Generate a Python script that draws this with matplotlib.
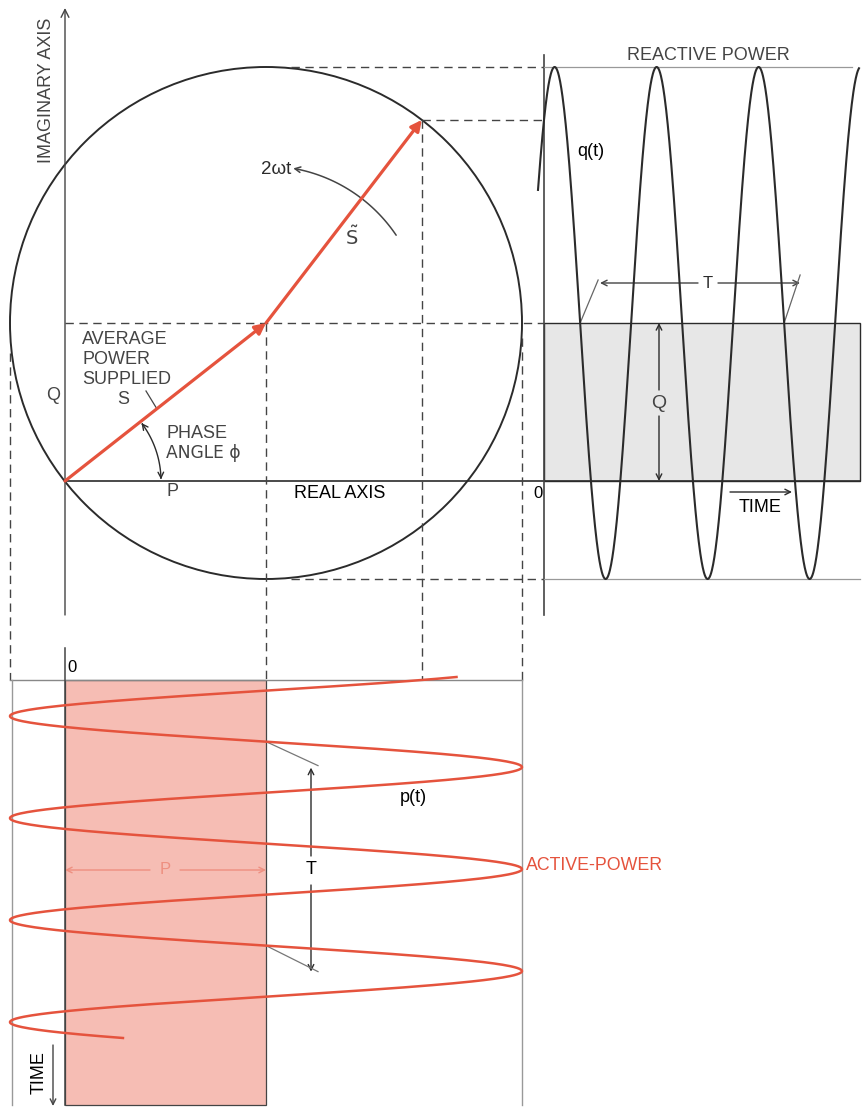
import numpy as np
import matplotlib.pyplot as plt
from matplotlib.patches import Circle, Rectangle, FancyArrowPatch
from matplotlib.path import Path

# ---------------------------------------------------------------
#  values (drawing units, 1 unit = 1 px at dpi 100)
# ---------------------------------------------------------------
P = 201.0            # average (active) power
Q = 158.0            # reactive power
S_MAG = 256.0        # magnitude of the rotating phasor S~
THETA0 = 52.5        # angle of S~ at t = 0, degrees
PERIOD = 102.0       # period T of p(t), q(t)
T_RIGHT = (-6, 315)  # time span drawn for q(t)
T_BOTTOM = (-3, 358) # time span drawn for p(t)

# layout
ORIGIN = (65.0, 481.0)      # phasor origin
Q_T0 = 544.0                # time zero of the q(t) panel (x)
P_T0 = 680.0                # time zero of the p(t) panel (y)
BOTTOM = 1105.0
RIGHT = 860.0

RED = "#e5533d"
PINK = "#f6bdb4"
GREY_BAND = "#e7e7e7"
INK = "#2b2b2b"
SOFT = "#444444"
FONT = ["Liberation Sans", "DejaVu Sans"]

plt.rcParams["font.family"] = FONT

fig = plt.figure(figsize=(8.64, 11.08), dpi=100)
ax = fig.add_axes([0, 0, 1, 1])
ax.set_xlim(0, 864)
ax.set_ylim(1108, 0)
ax.axis("off")

ox, oy = ORIGIN
cx, cy = ox + P, oy - Q
th0 = np.radians(THETA0)
tipx, tipy = cx + S_MAG * np.cos(th0), cy - S_MAG * np.sin(th0)


def dash(x0, y0, x1, y1, **kw):
    ax.plot([x0, x1], [y0, y1], color=SOFT, lw=1.0, dashes=(6, 4), **kw)


def line(x0, y0, x1, y1, color=SOFT, lw=1.0, **kw):
    ax.plot([x0, x1], [y0, y1], color=color, lw=lw, **kw)


def arrow(x0, y0, x1, y1, style="->", color=INK, lw=1.0, ms=10):
    ax.add_patch(FancyArrowPatch((x0, y0), (x1, y1), arrowstyle=style,
                                 mutation_scale=ms, color=color, lw=lw,
                                 shrinkA=0, shrinkB=0))


def arc_arrow(xc, yc, r, a0, a1, style="->", color=INK, lw=1.0):
    a = np.radians(np.linspace(a0, a1, 60))
    verts = np.column_stack([xc + r * np.cos(a), yc - r * np.sin(a)])
    ax.add_patch(FancyArrowPatch(path=Path(verts), arrowstyle=style,
                                 mutation_scale=10, color=color, lw=lw))


def label(x, y, s, size=13, color=SOFT, **kw):
    kw.setdefault("ha", "center")
    kw.setdefault("va", "center")
    ax.text(x, y, s, fontsize=size, color=color, **kw)


# ---------------- shaded bands ----------------
ax.add_patch(Rectangle((Q_T0, cy), RIGHT - Q_T0, Q, facecolor=GREY_BAND,
                       edgecolor=INK, lw=1.0, zorder=0))
ax.add_patch(Rectangle((ox, P_T0), P, BOTTOM - P_T0, facecolor=PINK,
                       edgecolor=SOFT, lw=0.9, zorder=0))

# ---------------- phasor diagram ----------------
ax.add_patch(Circle((cx, cy), S_MAG, fill=False, edgecolor=INK, lw=1.4))
arrow(ox, 615, ox, 8, style="->", color=SOFT, lw=1.0, ms=14)   # imaginary axis
line(ox, oy, RIGHT, oy, color=INK, lw=1.2)                     # real axis
line(Q_T0, 55, Q_T0, 615, color=SOFT, lw=1.2)                  # q(t) axis

# projection lines
dash(ox, cy, Q_T0, cy)
dash(tipx, tipy, Q_T0, tipy)
dash(cx + 25, cy - S_MAG, Q_T0, cy - S_MAG)
dash(cx + 25, cy + S_MAG, Q_T0, cy + S_MAG)
dash(cx, cy, cx, P_T0)
dash(tipx, tipy, tipx, P_T0)
dash(cx - S_MAG, cy + 30, cx - S_MAG, P_T0)
dash(cx + S_MAG, cy + 15, cx + S_MAG, P_T0)
line(Q_T0, cy - S_MAG, RIGHT - 8, cy - S_MAG, color="#999999", lw=0.9)
line(Q_T0, cy + S_MAG, RIGHT, cy + S_MAG, color="#999999", lw=0.9)

# phasors S and S~
ax.add_patch(FancyArrowPatch((ox, oy), (cx, cy), arrowstyle="-|>",
                             mutation_scale=16, color=RED, lw=2.3,
                             shrinkA=0, shrinkB=0, zorder=5))
ax.add_patch(FancyArrowPatch((cx, cy), (tipx, tipy), arrowstyle="-|>",
                             mutation_scale=16, color=RED, lw=2.3,
                             shrinkA=0, shrinkB=0, zorder=5))

# rotation 2wt and phase angle
arc_arrow(cx, cy, 157, 34, 80, style="->", color=SOFT, lw=1.1)
phi = np.degrees(np.arctan2(Q, P))
arc_arrow(ox, oy, 96, 1, phi - 1, style="<->", color=INK, lw=1.0)
line(146, 391, 157, 409, color=SOFT, lw=0.9)

label(47, 90, "IMAGINARY AXIS", rotation=90)
label(291, 169, "2\u03c9t", size=13.5, color=INK, ha="right")
label(352, 237, r"$\tilde{\mathrm{S}}$", size=14, color=SOFT)
for k, s in enumerate(["AVERAGE", "POWER", "SUPPLIED"]):
    label(82, 340 + 20 * k, s, ha="left")
label(123, 399, "S")
label(53, 395, "Q")
label(166, 433, "PHASE", ha="left")
label(166, 453, "ANGLE \u03d5", ha="left", family=["DejaVu Sans"], size=12.3)
label(172, 492, "P")
label(340, 494, "REAL AXIS", color="black")

# ---------------- reactive power q(t) ----------------
t = np.linspace(*T_RIGHT, 800)
q = Q + S_MAG * np.sin(th0 + 2 * np.pi * t / PERIOD)
ax.plot(Q_T0 + t, oy - q, color=INK, lw=1.5, zorder=4)

label(708, 56, "REACTIVE POWER")
label(591, 152, "q(t)", size=13, color="black")
label(538, 493, "0", color="black", size=12)
arrow(730, 492, 792, 492, color=INK, lw=1.0)
label(760, 507, "TIME", color="black")

# period marker
tq = Q_T0 + (np.pi / 2 - th0) * PERIOD / (2 * np.pi) + PERIOD / 4
line(tq, cy, tq + 18, 280, lw=0.9, color="#666666")
line(tq + 2 * PERIOD, cy, tq + 2 * PERIOD + 16, 275, lw=0.9, color="#666666")
arrow(698, 283, 600, 283, color=SOFT)
arrow(718, 283, 800, 283, color=SOFT)
label(708, 283, "T", color=INK, size=12)
arrow(659, 390, 659, cy, color=INK)
arrow(659, 416, 659, oy, color=INK)
label(659, 403, "Q", color=SOFT, size=14)

# ---------------- active power p(t) ----------------
line(cx - S_MAG, P_T0, cx + S_MAG, P_T0, color="#888888")
line(cx - S_MAG + 2, P_T0, cx - S_MAG + 2, BOTTOM, color="#999999")
line(cx + S_MAG, P_T0, cx + S_MAG, BOTTOM, color="#999999")
line(ox, 648, ox, BOTTOM, color=SOFT, lw=1.1)

t = np.linspace(*T_BOTTOM, 800)
p = P + S_MAG * np.cos(th0 + 2 * np.pi * t / PERIOD)
ax.plot(ox + p, P_T0 + t, color=RED, lw=1.8, zorder=4)

label(72, 668, "0", color="black", size=12)
arrow(150, 870, ox, 870, color="#ee8f80")
arrow(180, 870, cx, 870, color="#ee8f80")
label(165, 870, "P", color="#ee8f80", size=12)

tp = P_T0 + (2 * np.pi - th0) * PERIOD / (2 * np.pi) - PERIOD / 4
line(cx, tp, cx + 52, tp + 24, lw=0.9, color="#777777")
line(cx, tp + 2 * PERIOD, cx + 52, tp + 2 * PERIOD + 26, lw=0.9, color="#777777")
arrow(311, 856, 311, tp + 26, color=INK)
arrow(311, 885, 311, tp + 2 * PERIOD + 26, color=INK)
label(311, 870, "T", color="black")
label(413, 798, "p(t)", color="black")
label(526, 866, "ACTIVE-POWER", color=RED, size=12.8, ha="left")

label(39, 1073, "TIME", color="black", rotation=90)
arrow(53, 1045, 53, 1106, color=SOFT)

fig.savefig("out.png", dpi=100, facecolor="white")
